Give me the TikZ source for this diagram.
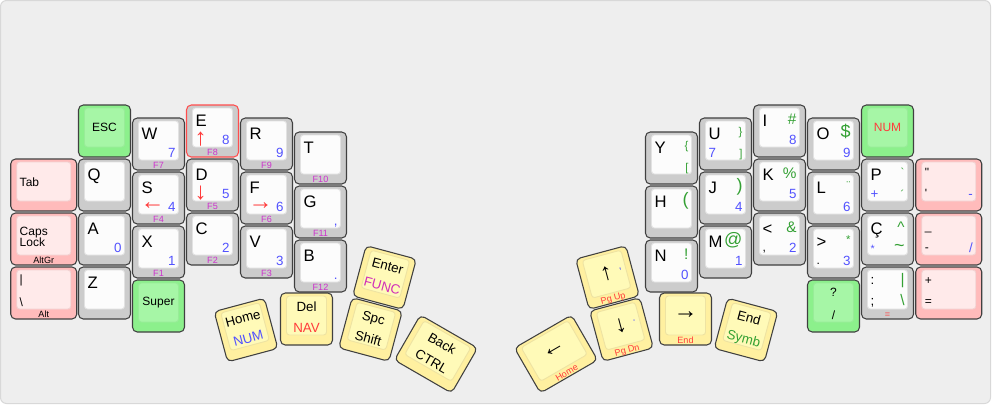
\documentclass[tikz,border=0pt]{standalone}
\usepackage{fontspec}
\setmainfont{Liberation Sans}
\definecolor{kbg}{HTML}{EEEEEE}
\definecolor{kbgb}{HTML}{D8D8D8}
\definecolor{kbd}{HTML}{404040}
\definecolor{kredb}{HTML}{FF4D4D}
\definecolor{grayo}{HTML}{CCCCCC}
\definecolor{grayi}{HTML}{FCFCFC}
\definecolor{grayb}{HTML}{E2E2E2}
\definecolor{greeno}{HTML}{8CF08C}
\definecolor{greeni}{HTML}{A6F6A6}
\definecolor{greenb}{HTML}{98EC98}
\definecolor{pinko}{HTML}{FFBBBB}
\definecolor{pinki}{HTML}{FFEAEA}
\definecolor{pinkb}{HTML}{F2D2D2}
\definecolor{yello}{HTML}{FFF0A0}
\definecolor{yelli}{HTML}{FFFAB8}
\definecolor{yellb}{HTML}{EEE3A2}
\definecolor{kblue}{HTML}{5252FF}
\definecolor{kgreen}{HTML}{33A033}
\definecolor{kmag}{HTML}{CC33CC}
\definecolor{kred}{HTML}{FF3B3B}
\tikzset{
 kout/.style={line width=0.8pt, rounded corners=3.6pt},
 kin/.style={line width=0.7pt, rounded corners=2.2pt},
 lg/.style={inner sep=0pt, outer sep=0pt},
 lgmain/.style={lg, font=\fontsize{12.5}{13}\selectfont},
 lgblue/.style={lg, text=kblue, font=\fontsize{10}{11}\selectfont},
 lgbluesm/.style={lg, text=kblue, font=\fontsize{8}{9}\selectfont},
 lggreen/.style={lg, text=kgreen, font=\fontsize{11.5}{12}\selectfont},
 lggreensm/.style={lg, text=kgreen, font=\fontsize{8.5}{9}\selectfont},
 lggreenbig/.style={lg, text=kgreen, font=\fontsize{13.5}{14}\selectfont},
 lgsm/.style={lg, font=\fontsize{9}{10}\selectfont},
 lgmid/.style={lg, font=\fontsize{9}{10}\selectfont},
 lgmidred/.style={lg, text=kred, font=\fontsize{9}{10}\selectfont},
 lgarrow/.style={lg, text=kred, font=\fontsize{18}{18}\selectfont},
 lgarrowk/.style={lg, font=\fontsize{18}{18}\selectfont},
 lgfront/.style={lg, text=kmag, font=\fontsize{6.8}{7}\selectfont},
 lgfrontk/.style={lg, font=\fontsize{6.8}{7}\selectfont},
 lgfrontr/.style={lg, text=kred, font=\fontsize{6.8}{7}\selectfont},
 lgthumb/.style={lg, font=\fontsize{10}{11}\selectfont},
 lgthumbblue/.style={lgthumb, text=kblue},
 lgthumbred/.style={lgthumb, text=kred},
 lgthumbmag/.style={lgthumb, text=kmag!90!red},
 lgthumbgreen/.style={lgthumb, text=kgreen},
}
% key: [extra outer style]{cx}{cy}{half width}{angle}{colour}{legends}
\newcommand\kcap[7][]{%
 \begin{scope}[shift={(#2,#3)},rotate=#5,transform shape]
 \def\hw{#4}%
 \filldraw[kout,fill=#6o,draw=kbd,#1] (-#4,-26) rectangle (#4,26);
 \filldraw[kin,fill=#6i,draw=#6b] ({-#4+6},-23) rectangle ({#4-6},16);
 #7
 \end{scope}}
\newcommand\Ltl[2][lgmain]{\node[#1,anchor=base west] at ({-\hw+9},-5) {#2};}
\newcommand\Ltr[2][lggreen]{\node[#1,anchor=base east] at ({\hw-9},-7) {#2};}
\newcommand\Lbl[2][lgblue]{\node[#1,anchor=base west] at ({-\hw+9},13) {#2};}
\newcommand\Lbr[2][lgblue]{\node[#1,anchor=base east] at ({\hw-9},13) {#2};}
\newcommand\Larr[1]{\node[lgarrow,anchor=west] at ({-\hw+8},8) {#1};}
\newcommand\Lc[2][lgmid]{\node[#1,anchor=center] at (0,-3.5) {#2};}
\newcommand\Lrc[2][lgbluesm]{\node[#1,anchor=base east] at ({\hw-10},-5) {#2};}
\newcommand\Lf[2][lgfront]{\node[#1,anchor=base] at (0,24.5) {#2};}
\newcommand\Ltc[2][lgthumb]{\node[#1,anchor=base] at (0,-7.5) {#2};}
\newcommand\Lbc[2][lgthumb]{\node[#1,anchor=base] at (0,13.5) {#2};}
\newcommand\Lat[3][lgsm]{\node[#1,anchor=base west] at ({-\hw+9},#2) {#3};}
\newcommand\Lar[3][lggreensm]{\node[#1,anchor=base east] at ({\hw-9},#2) {#3};}
\newcommand\Lct[3][lgsm]{\node[#1,anchor=base] at (0,#2) {#3};}

\begin{document}
\begin{tikzpicture}[x=0.75pt,y=-0.75pt]
\useasboundingbox (0,0) rectangle (992,405);
\filldraw[fill=kbg,draw=kbgb,line width=0.75pt,rounded corners=4.5pt] (0.5,0.5) rectangle (990.5,403.5);

% ---------------- left hand ----------------
\kcap{104.5}{131}{26}{0}{green}{\Lc{ESC}}
\kcap{43.75}{185}{33}{0}{pink}{\Lat[lgsm]{1}{Tab}}
\kcap{43.75}{239}{33}{0}{pink}{\Lat{-4}{Caps}\Lat{7.5}{Lock}\Lf[lgfrontk]{AltGr}}
\kcap{43.75}{293}{33}{0}{pink}{\Lat{-10}{|}\Lat{13}{\textbackslash}\Lf[lgfrontk]{Alt}}
\kcap{104.5}{185}{26}{0}{gray}{\Ltl{Q}}
\kcap{104.5}{239}{26}{0}{gray}{\Ltl{A}\Lbr{0}}
\kcap{104.5}{293}{26}{0}{gray}{\Ltl{Z}}
\kcap{158.5}{144}{26}{0}{gray}{\Ltl{W}\Lbr{7}\Lf{F7}}
\kcap{158.5}{198}{26}{0}{gray}{\Ltl{S}\Larr{←}\Lbr{4}\Lf{F4}}
\kcap{158.5}{252}{26}{0}{gray}{\Ltl{X}\Lbr{1}\Lf{F1}}
\kcap{158.5}{306}{26}{0}{green}{\Lc{Super}}
\kcap[draw=kredb]{212.5}{131}{26}{0}{gray}{\Ltl{E}\Larr{↑}\Lbr{8}\Lf{F8}}
\kcap{212.5}{185}{26}{0}{gray}{\Ltl{D}\Larr{↓}\Lbr{5}\Lf{F5}}
\kcap{212.5}{239}{26}{0}{gray}{\Ltl{C}\Lbr{2}\Lf{F2}}
\kcap{266.5}{144}{26}{0}{gray}{\Ltl{R}\Lbr{9}\Lf{F9}}
\kcap{266.5}{198}{26}{0}{gray}{\Ltl{F}\Larr{→}\Lbr{6}\Lf{F6}}
\kcap{266.5}{252}{26}{0}{gray}{\Ltl{V}\Lbr{3}\Lf{F3}}
\kcap{320.5}{158}{26}{0}{gray}{\Ltl{T}\Lf{F10}}
\kcap{320.5}{212}{26}{0}{gray}{\Ltl{G}\Lbr{,}\Lf{F11}}
\kcap{320.5}{266}{26}{0}{gray}{\Ltl{B}\Lbr{.}\Lf{F12}}

% ---------------- left thumb ----------------
\kcap{246}{330}{26}{15}{yell}{\Ltc{Home}\Lbc[lgthumbblue]{NUM}}
\kcap{306.5}{319}{26}{0}{yell}{\Ltc{Del}\Lbc[lgthumbred]{NAV}}
\kcap{384.5}{277.5}{26}{-15}{yell}{\Ltc{Enter}\Lbc[lgthumbmag]{FUNC}}
\kcap{370.5}{329.5}{26}{-15}{yell}{\Ltc{Spc}\Lbc{Shift}}
\kcap{436}{354}{33}{-30}{yell}{\Ltc{Back}\Lbc{CTRL}}

% ---------------- right thumb ----------------
\kcap{556}{354}{33}{30}{yell}{\Lc[lgarrowk]{←}\Lf[lgfrontr]{Home}}
\kcap{607.5}{277.5}{26}{15}{yell}{\Lc[lgarrowk]{↑}\Lrc{,}\Lf[lgfrontr]{Pg Up}}
\kcap{621.5}{329.5}{26}{15}{yell}{\Lc[lgarrowk]{↓}\Lrc{.}\Lf[lgfrontr]{Pg Dn}}
\kcap{685.5}{319}{26}{0}{yell}{\Lc[lgarrowk]{→}\Lf[lgfrontr]{End}}
\kcap{746}{330}{26}{-15}{yell}{\Ltc{End}\Lbc[lgthumbgreen]{Symb}}

% ---------------- right hand ----------------
\kcap{671.5}{158}{26}{0}{gray}{\Ltl{Y}\Lar{-9}{\{}\Lar{13}{[}}
\kcap{671.5}{212}{26}{0}{gray}{\Ltl{H}\Ltr[lggreenbig]{(}}
\kcap{671.5}{266}{26}{0}{gray}{\Ltl{N}\Ltr{!}\Lbr{0}}
\kcap{725.5}{144}{26}{0}{gray}{\Ltl{U}\Lar{-9}{\}}\Lbl{7}\Lar{13}{]}}
\kcap{725.5}{198}{26}{0}{gray}{\Ltl{J}\Ltr[lggreenbig]{)}\Lbr{4}}
\kcap{725.5}{252}{26}{0}{gray}{\Ltl{M}\Ltr[lggreenbig]{@}\Lbr{1}}
\kcap{779.5}{131}{26}{0}{gray}{\Ltl{I}\Ltr{\#}\Lbr{8}}
\kcap{779.5}{185}{26}{0}{gray}{\Ltl{K}\Ltr{\%}\Lbr{5}}
\kcap{779.5}{239}{26}{0}{gray}{\Ltl{<}\Ltr{\&}\Lat{12.5}{,}\Lbr{2}}
\kcap{833.5}{144}{26}{0}{gray}{\Ltl{O}\Ltr[lggreenbig]{\$}\Lbr{9}}
\kcap{833.5}{198}{26}{0}{gray}{\Ltl{L}\Lar{-9}{¨}\Lbr{6}}
\kcap{833.5}{252}{26}{0}{gray}{\Ltl{>}\Lar{-9}{*}\Lat{12.5}{.}\Lbr{3}}
\kcap{833.5}{306}{26}{0}{green}{\Lct{-10}{?}\Lct{13}{/}}
\kcap{887.5}{131}{26}{0}{green}{\Lc[lgmidred]{NUM}}
\kcap{887.5}{185}{26}{0}{gray}{\Ltl{P}\Lar{-9}{\textasciigrave}\Lbl{+}\Lar{13}{´}}
\kcap{887.5}{239}{26}{0}{gray}{\Ltl{Ç}\Ltr{\textasciicircum}\Lbl[lgbluesm]{*}\node[lggreenbig,anchor=base east] at ({\hw-9},12) {\textasciitilde};}
\kcap{887.5}{293}{26}{0}{gray}{\Lat[lgthumb]{-9}{:}\Lar[lggreen]{-9}{|}\Lat[lgthumb]{12.5}{;}\Lar[lggreen]{12.5}{\textbackslash}\Lf[lgfrontr]{=}}
\kcap{948.75}{185}{33}{0}{pink}{\Lat{-9}{\textquotedbl}\Lat{12.5}{\textquotesingle}\Lbr[lgblue]{-}}
\kcap{948.75}{239}{33}{0}{pink}{\Lat{-9}{\_}\Lat{12.5}{-}\Lbr[lgblue]{/}}
\kcap{948.75}{293}{33}{0}{pink}{\Lat{-9}{+}\Lat{12.5}{=}}
\end{tikzpicture}
\end{document}
